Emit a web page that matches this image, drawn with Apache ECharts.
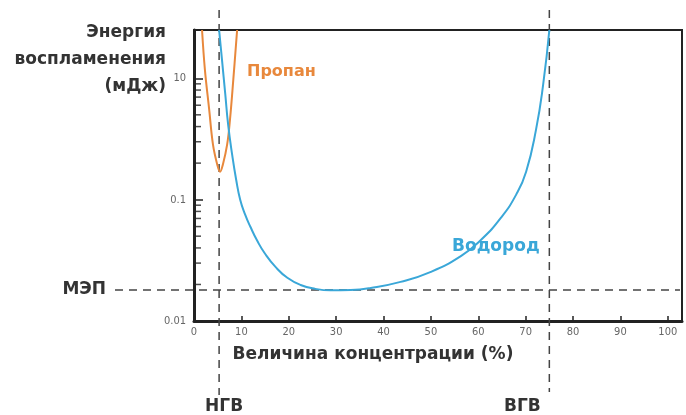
<!DOCTYPE html>
<html lang="ru">
<head>
<meta charset="utf-8" />
<title>Энергия воспламенения</title>
<script src="https://cdn.jsdelivr.net/npm/echarts@6/dist/echarts.min.js"></script>
<style>
  html, body { margin: 0; padding: 0; background: #fff; }
  #main { width: 686px; height: 415px; }
</style>
</head>
<body>
<div id="main"></div>
<script>
// концентрация (%) / энергия (мДж)
var propaneX = [1.7, 2.3, 3.2, 4.0, 4.9, 5.5, 6.1, 7.0, 7.6, 8.3, 9.1];
var propaneY = [2.5, 1.18, 0.555, 0.285, 0.195, 0.17, 0.195, 0.285, 0.458, 0.98, 2.5];

var hydrogenX = [5.3, 5.9, 6.6, 7.2, 8.05, 8.9, 9.75, 10.8, 11.9, 13.35, 15.0, 17.2, 19.7, 22.5, 25.6, 28.8, 33.1, 37.3, 43.6, 50, 56.4, 60.6, 64.8, 68.0, 70.1, 72.2, 73.7, 75];
var hydrogenY = [2.5, 1.43, 0.74, 0.417, 0.235, 0.146, 0.1, 0.0752, 0.0598, 0.0458, 0.0358, 0.0279, 0.0227, 0.0198, 0.0184, 0.0179, 0.018, 0.0187, 0.021, 0.0254, 0.0344, 0.0467, 0.071, 0.11, 0.17, 0.379, 0.89, 2.5];

var xTicks = [0, 10, 20, 30, 40, 50, 60, 70, 80, 90, 100];
var yTickValues = [0.01, 0.1, 1];
var yTickLabels = ['0.01', '0.1', '10'];
var yMinorTicks = [0.02, 0.03, 0.04, 0.05, 0.06, 0.07, 0.08, 0.09, 0.2, 0.3, 0.4, 0.5, 0.6, 0.7, 0.8, 0.9];

var lfl = 5.3;   // НГВ
var ufl = 75;    // ВГВ
var mie = 0.018; // МЭП

function pairs(xs, ys) {
  return xs.map(function (x, i) { return [x, ys[i]]; });
}

var font = '"DejaVu Sans", "Noto Sans", sans-serif';
var smallFont = '"DejaVu Sans Condensed", "Noto Sans", sans-serif';
var textCol = '#333';

var myChart = echarts.init(document.getElementById('main'));
var option = {
  animation: false,
  grid: {
    left: 194, right: 4, top: 30, bottom: 94,
    show: true, borderColor: '#222', borderWidth: 2
  },
  xAxis: {
    type: 'value', min: 0, max: 103, interval: 10,
    axisLine: { lineStyle: { color: '#222', width: 3 } },
    axisTick: { inside: true, length: 5, lineStyle: { color: '#222', width: 1.5 } },
    splitLine: { show: false },
    axisLabel: {
      color: '#666', fontSize: 11, fontFamily: smallFont, margin: 6,
      formatter: function (v) { return xTicks.indexOf(v) >= 0 ? String(v) : ''; }
    }
  },
  yAxis: {
    type: 'log', min: 0.01, max: 2.5, logBase: 10,
    axisLine: { lineStyle: { color: '#222', width: 3 } },
    axisTick: { inside: true, length: 9, lineStyle: { color: '#222', width: 1.5 } },
    splitLine: { show: false },
    axisLabel: {
      color: '#666', fontSize: 11, fontFamily: smallFont, margin: 8,
      formatter: function (v) {
        for (var i = 0; i < yTickValues.length; i++) {
          if (Math.abs(v - yTickValues[i]) < yTickValues[i] * 1e-6) return yTickLabels[i];
        }
        return '';
      }
    }
  },
  series: [
    {
      name: 'Пропан', type: 'line', smooth: 0.4, symbol: 'none',
      lineStyle: { color: '#E8883C', width: 2 },
      data: pairs(propaneX, propaneY), z: 3
    },
    {
      name: 'Водород', type: 'line', smooth: 0.5, symbol: 'none',
      lineStyle: { color: '#3AA7D8', width: 2 },
      data: pairs(hydrogenX, hydrogenY), z: 4
    },
    {
      name: 'minor', type: 'scatter', silent: true,
      symbol: 'rect', symbolSize: [6, 1.5], symbolOffset: [4, 0],
      itemStyle: { color: '#222' },
      data: yMinorTicks.map(function (v) { return [0, v]; }), z: 5
    }
  ]
};
myChart.setOption(option);

// пунктирные линии НГВ / ВГВ / МЭП через шкалы графика
var pL = myChart.convertToPixel({ gridIndex: 0 }, [lfl, mie]);
var pU = myChart.convertToPixel({ gridIndex: 0 }, [ufl, mie]);
var dash = { stroke: '#444', lineWidth: 1.5, lineDash: [8, 6] };
var boldText = function (txt, x, y, align, color, size) {
  return {
    type: 'text', x: x, y: y,
    style: {
      text: txt, fill: color || textCol, align: align || 'left', verticalAlign: 'middle',
      font: 'bold ' + (size || 17) + 'px ' + font, lineHeight: 27
    }
  };
};
myChart.setOption({
  graphic: [
    { type: 'line', shape: { x1: pL[0], y1: 10, x2: pL[0], y2: 395 }, style: dash, z: 1 },
    { type: 'line', shape: { x1: pU[0], y1: 10, x2: pU[0], y2: 392 }, style: dash, z: 1 },
    { type: 'line', shape: { x1: 115, y1: pL[1], x2: 680, y2: pL[1] }, style: dash, z: 1 },
    boldText('МЭП', 106, pL[1], 'right'),
    boldText('НГВ', pL[0] + 5, 407, 'center'),
    boldText('ВГВ', pU[0] - 27, 407, 'center'),
    boldText('Энергия\nвоспламенения\n(мДж)', 166, 60, 'right'),
    boldText('Величина концентрации (%)', 373, 355, 'center'),
    boldText('Пропан', 247, 72, 'left', '#E8883C', 16),
    boldText('Водород', 452, 247, 'left', '#3AA7D8', 17)
  ]
});
window.onresize = myChart.resize;
</script>
</body>
</html>
